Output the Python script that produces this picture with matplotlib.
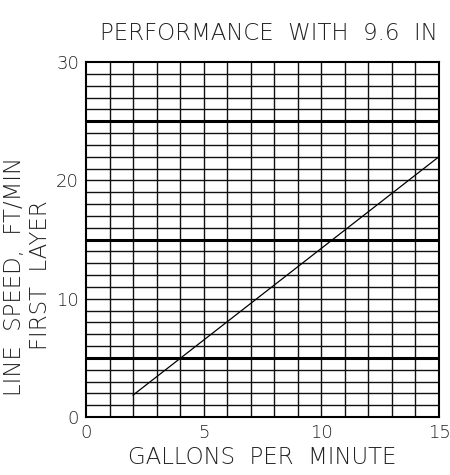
import numpy as np
import matplotlib
matplotlib.use("Agg")
import matplotlib.pyplot as plt

# data
gpm = [2, 15]
line_speed = [1.85, 22.0]
heavy_lines = [5, 15, 25]
x_ticks = [0, 5, 10, 15]
y_ticks = [0, 10, 20, 30]

plt.rcParams['font.family'] = ['DejaVu Sans']
ink = '#111111'
txt = '#222222'

fig = plt.figure(figsize=(4.5, 4.75), dpi=100)
ax = fig.add_axes([86/450, 1-417/475, 353/450, 355/475])

# fine grid, one unit each way
for gx in range(1, 15):
    ax.axvline(gx, color=ink, linewidth=1.0, zorder=1)
for gy in range(1, 30):
    ax.axhline(gy, color=ink, linewidth=1.0, zorder=1)
for hy in heavy_lines:
    ax.axhline(hy, color='black', linewidth=2.2, zorder=2)

ax.plot(gpm, line_speed, color='black', linewidth=0.9, zorder=3)

ax.set_xlim(0, 15)
ax.set_ylim(0, 30)
ax.set_xticks(x_ticks)
ax.set_yticks(y_ticks)
ax.tick_params(length=0, labelsize=13, colors=txt, pad=5)
for lab in ax.get_xticklabels() + ax.get_yticklabels():
    lab.set_fontweight('light')
for s in ax.spines.values():
    s.set_linewidth(1.5)
    s.set_color('black')
    s.set_zorder(4)

fig.text(100/450, 1-33/475, 'PERFORMANCE  WITH  9.6  IN', fontsize=16.5,
         color=txt, va='center', ha='left', fontweight='light')
fig.text(262/450, 1-457/475, 'GALLONS  PER  MINUTE', fontsize=16.5,
         color=txt, va='center', ha='center', fontweight='light')
fig.text(15/450, 1-277/475, 'LINE  SPEED,  FT/MIN', fontsize=16.5,
         color=txt, va='center', ha='center', rotation=90, fontweight='light')
fig.text(41/450, 1-275/475, 'FIRST  LAYER', fontsize=16.5,
         color=txt, va='center', ha='center', rotation=90, fontweight='light')

fig.savefig('out.png', dpi=100)
